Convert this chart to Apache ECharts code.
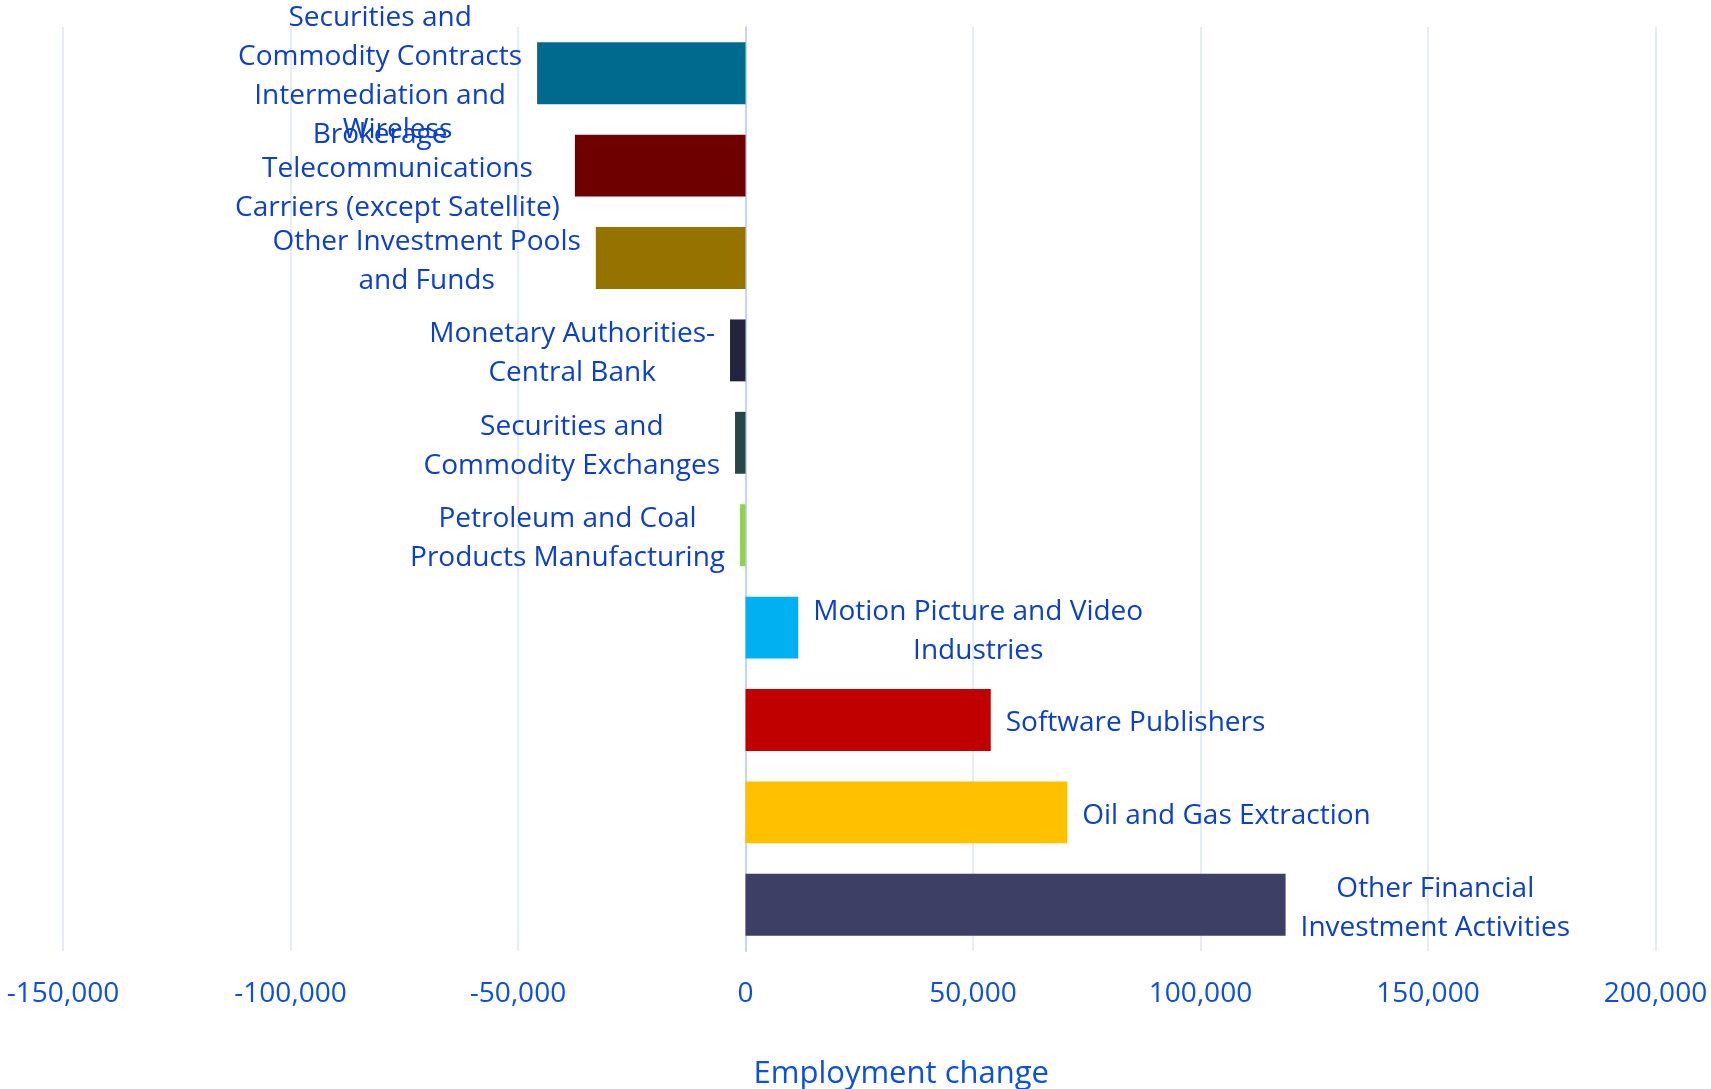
<!DOCTYPE html>
<html>
<head>
<meta charset="utf-8">
<title>Employment change by industry</title>
<script src="https://cdn.jsdelivr.net/npm/echarts@6/dist/echarts.min.js"></script>
<style>
  html, body { margin: 0; padding: 0; background: #ffffff; }
  #chart { width: 1711px; height: 1089px; }
</style>
</head>
<body>
<div id="chart"></div>
<script>
// Industries, top to bottom
const industries = [
  'Securities and\nCommodity Contracts\nIntermediation and\nBrokerage',
  'Wireless\nTelecommunications\nCarriers (except Satellite)',
  'Other Investment Pools\nand Funds',
  'Monetary Authorities-\nCentral Bank',
  'Securities and\nCommodity Exchanges',
  'Petroleum and Coal\nProducts Manufacturing',
  'Motion Picture and Video\nIndustries',
  'Software Publishers',
  'Oil and Gas Extraction',
  'Other Financial\nInvestment Activities'
];

// Employment change per industry
const employmentChange = [-45800, -37500, -32900, -3400, -2300, -1200, 11600, 53900, 70700, 118700];

// Bar colours per industry
const barColors = ['#006a8e', '#6e0000', '#967300', '#24243e', '#264747', '#92d050', '#00b0f0', '#c00000', '#ffc000', '#3d3f65'];

// Horizontal axis ticks
const axisTicks = [-150000, -100000, -50000, 0, 50000, 100000, 150000, 200000];

const labelBlue = '#0b3fcc';
const tickBlue = '#0d4fe0';
const font = '"Open Sans", "Noto Sans", sans-serif';

const chart = echarts.init(document.getElementById('chart'), null, { renderer: 'canvas' });

const data = employmentChange.map((v, i) => ({
  value: v,
  itemStyle: { color: barColors[i] },
  label: { position: v < 0 ? 'left' : 'right' }
}));

chart.setOption({
  animation: false,
  grid: {
    left: 63, right: 55.5, top: 27, bottom: 138,
    containLabel: false,
    outerBoundsMode: 'none'
  },
  xAxis: {
    type: 'value',
    min: axisTicks[0],
    max: axisTicks[axisTicks.length - 1],
    interval: axisTicks[1] - axisTicks[0],
    axisLine: { show: false },
    axisTick: { show: false },
    splitLine: { show: true, lineStyle: { color: '#dbe5fb', width: 1.5 } },
    axisLabel: {
      margin: 29,
      fontFamily: font,
      fontSize: 28,
      color: tickBlue,
      formatter: v => v.toLocaleString('en-US')
    },
    name: 'Employment change',
    nameLocation: 'middle',
    nameGap: 108,
    nameTextStyle: {
      fontFamily: font,
      fontSize: 31,
      color: tickBlue,
      padding: [0, 0, 0, 84]
    }
  },
  yAxis: {
    type: 'category',
    inverse: true,
    data: industries,
    axisLine: { show: true, onZero: true, lineStyle: { color: '#c3d4f7', width: 2 } },
    axisTick: { show: false },
    axisLabel: { show: false },
    splitLine: { show: false }
  },
  series: [{
    type: 'bar',
    data: data,
    barWidth: '67%',
    label: {
      show: true,
      distance: 15,
      offset: [0, 3.5],
      formatter: p => p.name.split('\n').map(line => '{c|' + line + '}').join('\n'),
      rich: {
        c: {
          fontFamily: font,
          fontSize: 28,
          lineHeight: 39,
          color: labelBlue,
          align: 'center'
        }
      }
    }
  }]
});
</script>
</body>
</html>
